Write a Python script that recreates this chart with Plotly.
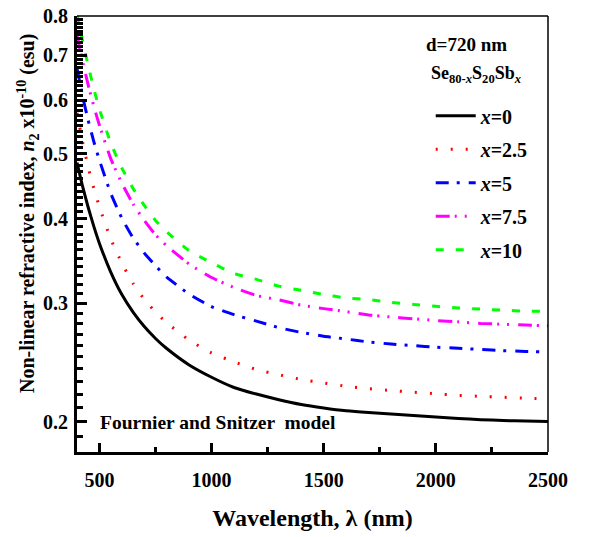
import plotly.graph_objects as go
import numpy as np

wavelength = [400, 425, 450, 475, 500, 550, 600, 650, 700, 750, 800, 900, 1000, 1100, 1200,
              1300, 1400, 1500, 1600, 1700, 1800, 1900, 2000, 2100, 2200, 2300, 2400, 2500]

n2_x0 = [0.485, 0.447, 0.416, 0.390, 0.368, 0.334, 0.309, 0.291, 0.277, 0.266, 0.257, 0.243,
         0.233, 0.225, 0.220, 0.2158, 0.2123, 0.2098, 0.2078, 0.2065, 0.2055, 0.2045, 0.2034,
         0.2024, 0.2016, 0.2010, 0.2006, 0.2003]
n2_x2_5 = [0.575, 0.520, 0.477, 0.444, 0.417, 0.374, 0.344, 0.321, 0.304, 0.291, 0.2807, 0.2645,
           0.2532, 0.2455, 0.2392, 0.2350, 0.2312, 0.2285, 0.2260, 0.2241, 0.2227, 0.2214, 0.2202,
           0.2190, 0.2183, 0.2176, 0.2169, 0.2164]
n2_x5 = [0.670, 0.608, 0.560, 0.521, 0.489, 0.437, 0.401, 0.375, 0.356, 0.341, 0.328, 0.3095,
         0.2965, 0.2885, 0.2822, 0.2760, 0.2715, 0.2680, 0.2655, 0.2628, 0.2610, 0.2596, 0.2582,
         0.2572, 0.2562, 0.2551, 0.2545, 0.2540]
n2_x7_5 = [0.750, 0.685, 0.632, 0.588, 0.551, 0.492, 0.452, 0.421, 0.398, 0.379, 0.365, 0.343,
           0.3275, 0.3165, 0.3080, 0.3035, 0.2980, 0.2945, 0.2915, 0.2882, 0.2862, 0.2845, 0.2828,
           0.2815, 0.2800, 0.2792, 0.2784, 0.2778]
n2_x10 = [0.805, 0.735, 0.675, 0.624, 0.582, 0.519, 0.476, 0.444, 0.419, 0.398, 0.383, 0.359,
          0.3445, 0.3320, 0.3255, 0.3180, 0.3135, 0.3090, 0.3055, 0.3037, 0.3008, 0.2988, 0.2968,
          0.2952, 0.2940, 0.2930, 0.2920, 0.2917]

series_names = ["<b><i>x</i>=0</b>", "<b><i>x</i>=2.5</b>", "<b><i>x</i>=5</b>",
                "<b><i>x</i>=7.5</b>", "<b><i>x</i>=10</b>"]
series_values = [n2_x0, n2_x2_5, n2_x5, n2_x7_5, n2_x10]
series_colors = ["#000000", "#ff0000", "#0000ff", "#ff00ff", "#00ff00"]
series_dash = ["solid", "2px,13px", "13px,8px,3px,9px", "14px,5px,2px,8px,2px,9px", "8px,12px"]

y_tickvals = [0.2, 0.3, 0.4, 0.5, 0.6, 0.7, 0.8]
y_ticktext = ["<b>0.2</b>", "<b>0.3</b>", "<b>0.4</b>", "<b>0.5</b>", "<b>0.6</b>",
              "<b>0.7</b>", "<b>0.8</b>"]
x_tickvals = [500, 1000, 1500, 2000, 2500]
x_ticktext = ["<b>500</b>", "<b>1000</b>", "<b>1500</b>", "<b>2000</b>", "<b>2500</b>"]

FONT = "Times New Roman, Liberation Serif, serif"

fig = go.Figure()
for name, vals, col, dash in zip(series_names, series_values, series_colors, series_dash):
    fig.add_trace(go.Scatter(
        x=wavelength, y=vals, mode="lines", name=name, legendgroup=name,
        line=dict(color=col, width=3, dash=dash, shape="spline", smoothing=0.5),
    ))

y_minor = [round(v, 2) for v in np.arange(0.18, 0.801, 0.01) if round(v, 2) not in y_tickvals]

fig.update_layout(
    width=590, height=537,
    margin=dict(l=77, r=42, t=16, b=85, autoexpand=False),
    paper_bgcolor="white", plot_bgcolor="white",
    font=dict(family=FONT, size=17, color="black"),
    showlegend=True,
    legend=dict(
        x=0.751, y=0.816, xanchor="left", yanchor="top",
        bgcolor="rgba(0,0,0,0)", borderwidth=0,
        font=dict(family=FONT, size=20, color="black"),
        tracegroupgap=4.5, itemwidth=40,
    ),
    xaxis=dict(
        range=[400, 2500], tickvals=x_tickvals, ticktext=x_ticktext, ticks="inside",
        ticklen=9, tickwidth=3, automargin=False,
        tickcolor="black", showline=True, linewidth=3, linecolor="black", showgrid=False,
        zeroline=False, mirror=False, ticklabelstandoff=8,
        tickfont=dict(family=FONT, size=20),
        minor=dict(tickmode="array", tickvals=[750, 1250, 1750, 2250], ticks="inside",
                   ticklen=5, tickwidth=3, tickcolor="black", showgrid=False),
        title=dict(text="<b>Wavelength, λ (nm)</b>", font=dict(family=FONT, size=24),
                   standoff=20),
    ),
    yaxis=dict(
        type="log", range=[np.log10(0.1805), np.log10(0.8)], automargin=False,
        tickvals=y_tickvals, ticktext=y_ticktext, ticks="inside", ticklen=10, tickwidth=3,
        tickcolor="black", showline=True, linewidth=3, linecolor="black", showgrid=False,
        zeroline=False, mirror=False, ticklabelstandoff=2,
        tickfont=dict(family=FONT, size=20),
        minor=dict(tickmode="array", tickvals=y_minor, ticks="inside",
                   ticklen=6, tickwidth=3, tickcolor="black", showgrid=False),
    ),
)

# y-axis title placed as a rotated annotation (offset upward like the reference)
fig.add_annotation(
    text="<b>Non-linear refractive index, <i>n</i><sub>2</sub> x10<sup>-10</sup> (esu)</b>",
    xref="paper", yref="paper", x=-0.104, y=0.546, textangle=-90,
    xanchor="center", yanchor="middle", showarrow=False,
    font=dict(family=FONT, size=20))

# thin top and right frame lines
fig.add_shape(type="line", xref="paper", yref="paper", x0=0, x1=1, y0=1, y1=1,
              line=dict(color="black", width=1.5))
fig.add_shape(type="line", xref="paper", yref="paper", x0=1, x1=1, y0=0, y1=1,
              line=dict(color="black", width=1.5))

fig.add_annotation(text="<b>d=720 nm</b>", xref="paper", yref="paper", x=0.826, y=0.935,
                   xanchor="center", yanchor="middle", showarrow=False,
                   font=dict(family=FONT, size=19))
fig.add_annotation(text="<b>Se<sub>80-<i>x</i></sub>S<sub>20</sub>Sb<sub><i>x</i></sub></b>",
                   xref="paper", yref="paper", x=0.848, y=0.865,
                   xanchor="center", yanchor="middle", showarrow=False,
                   font=dict(family=FONT, size=18))
fig.add_annotation(text="<b>Fournier and Snitzer  model</b>", xref="paper", yref="paper",
                   x=0.045, y=0.068, xanchor="left", yanchor="middle", showarrow=False,
                   font=dict(family=FONT, size=19.5))

fig.write_html("out.html")
